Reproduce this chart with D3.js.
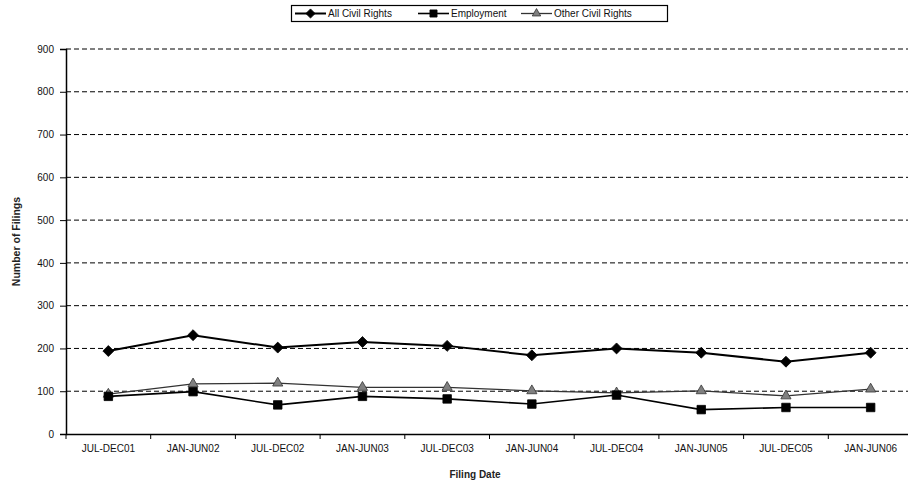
<!DOCTYPE html>
<html>
<head>
<meta charset="utf-8">
<script src="https://cdn.jsdelivr.net/npm/d3@7"></script>
<style>
  html, body { margin: 0; padding: 0; background: #fff; }
  svg { display: block; font-family: Arial, "Liberation Sans", sans-serif; }
</style>
</head>
<body>
<svg id="chart" width="908" height="486"></svg>
<script>
// Filing periods on the x axis
const periods = ["JUL-DEC01", "JAN-JUN02", "JUL-DEC02", "JAN-JUN03", "JUL-DEC03",
                 "JAN-JUN04", "JUL-DEC04", "JAN-JUN05", "JUL-DEC05", "JAN-JUN06"];
// Number of filings per period
const allCivilRights   = [194, 231, 202, 215, 206, 184, 200, 190, 169, 190];
const employment       = [88, 99, 68, 88, 82, 70, 91, 57, 62, 62];
const otherCivilRights = [93, 117, 119, 109, 109, 101, 96, 101, 89, 105];
const yTicks = [0, 100, 200, 300, 400, 500, 600, 700, 800, 900];

// square diamond (equal width and height)
const squareDiamond = {
  draw(ctx, size) {
    const r = Math.sqrt(size / 2);
    ctx.moveTo(0, -r); ctx.lineTo(r, 0); ctx.lineTo(0, r); ctx.lineTo(-r, 0); ctx.closePath();
  }
};

const series = [
  { name: "All Civil Rights", values: allCivilRights, symbol: squareDiamond, size: 60, fill: "#000", stroke: "#000", width: 2 },
  { name: "Employment", values: employment, symbol: d3.symbolSquare, size: 72, fill: "#000", stroke: "#000", width: 1.6 },
  { name: "Other Civil Rights", values: otherCivilRights, symbol: d3.symbolTriangle, size: 45, fill: "#808080", stroke: "#333", width: 1.3 }
];

const svg = d3.select("#chart");
const plotLeft = 66, plotTop = 49, plotBottom = 434, step = 84.7;

const x = d3.scaleBand().domain(periods).range([plotLeft, plotLeft + step * periods.length]);
const y = d3.scaleLinear().domain([0, 900]).range([plotBottom, plotTop]);

// dashed gridlines
svg.append("g")
  .selectAll("line")
  .data(yTicks.filter(d => d > 0))
  .join("line")
  .attr("x1", plotLeft).attr("x2", 908)
  .attr("y1", d => y(d)).attr("y2", d => y(d))
  .attr("stroke", "#000").attr("stroke-width", 1)
  .attr("stroke-dasharray", "5,3");

// y axis
const yAxis = svg.append("g")
  .attr("transform", `translate(${plotLeft},0)`)
  .call(d3.axisLeft(y).tickValues(yTicks).tickSize(6).tickPadding(6));
yAxis.select(".domain").attr("stroke", "#000").attr("stroke-width", 1.5);
yAxis.selectAll("text").attr("font-size", 10).attr("fill", "#111");

// x axis
const xAxis = svg.append("g")
  .attr("transform", `translate(0,${plotBottom})`)
  .call(d3.axisBottom(x).tickSize(0).tickPadding(11));
xAxis.select(".domain").attr("stroke", "#000").attr("stroke-width", 1.5);
xAxis.selectAll("text").attr("font-size", 10).attr("fill", "#111");
// tick marks between categories
svg.append("g")
  .selectAll("line")
  .data(periods)
  .join("line")
  .attr("x1", d => x(d)).attr("x2", d => x(d))
  .attr("y1", plotBottom).attr("y2", plotBottom + 5)
  .attr("stroke", "#000");

// axis titles
svg.append("text")
  .attr("x", 475).attr("y", 478)
  .attr("text-anchor", "middle")
  .attr("font-size", 10).attr("font-weight", "bold").attr("fill", "#222")
  .text("Filing Date");
svg.append("text")
  .attr("transform", `translate(20,${(plotTop + plotBottom) / 2}) rotate(-90)`)
  .attr("text-anchor", "middle")
  .attr("font-size", 10.5).attr("font-weight", "bold").attr("fill", "#222")
  .text("Number of Filings");

// series lines and markers
const cx = d => x(d) + x.bandwidth() / 2;
const line = d3.line().x((d, i) => cx(periods[i])).y(d => y(d));
series.slice().reverse().forEach(s => {
  svg.append("path")
    .attr("d", line(s.values))
    .attr("fill", "none")
    .attr("stroke", s.stroke)
    .attr("stroke-width", s.width);
  svg.append("g")
    .selectAll("path")
    .data(s.values)
    .join("path")
    .attr("d", d3.symbol().type(s.symbol).size(s.size))
    .attr("transform", (d, i) => `translate(${cx(periods[i])},${y(d)})`)
    .attr("fill", s.fill)
    .attr("stroke", s.stroke)
    .attr("stroke-width", 0.8);
});

// legend
const lg = svg.append("g");
lg.append("rect")
  .attr("x", 291.5).attr("y", 5.5).attr("width", 376).attr("height", 16)
  .attr("fill", "#fff").attr("stroke", "#000").attr("stroke-width", 1.2);
const legendX = [295, 418, 521];
series.forEach((s, i) => {
  const g = lg.append("g").attr("transform", `translate(${legendX[i]},13.5)`);
  g.append("line").attr("x1", 0).attr("x2", 31).attr("y1", 0).attr("y2", 0)
    .attr("stroke", s.stroke).attr("stroke-width", s.width);
  g.append("path")
    .attr("d", d3.symbol().type(s.symbol).size(s.size * 0.7))
    .attr("transform", "translate(15.5,0)")
    .attr("fill", s.fill).attr("stroke", s.stroke).attr("stroke-width", 0.8);
  g.append("text").attr("x", 33).attr("y", 3.5)
    .attr("font-size", 10).attr("fill", "#111")
    .text(s.name);
});
</script>
</body>
</html>
